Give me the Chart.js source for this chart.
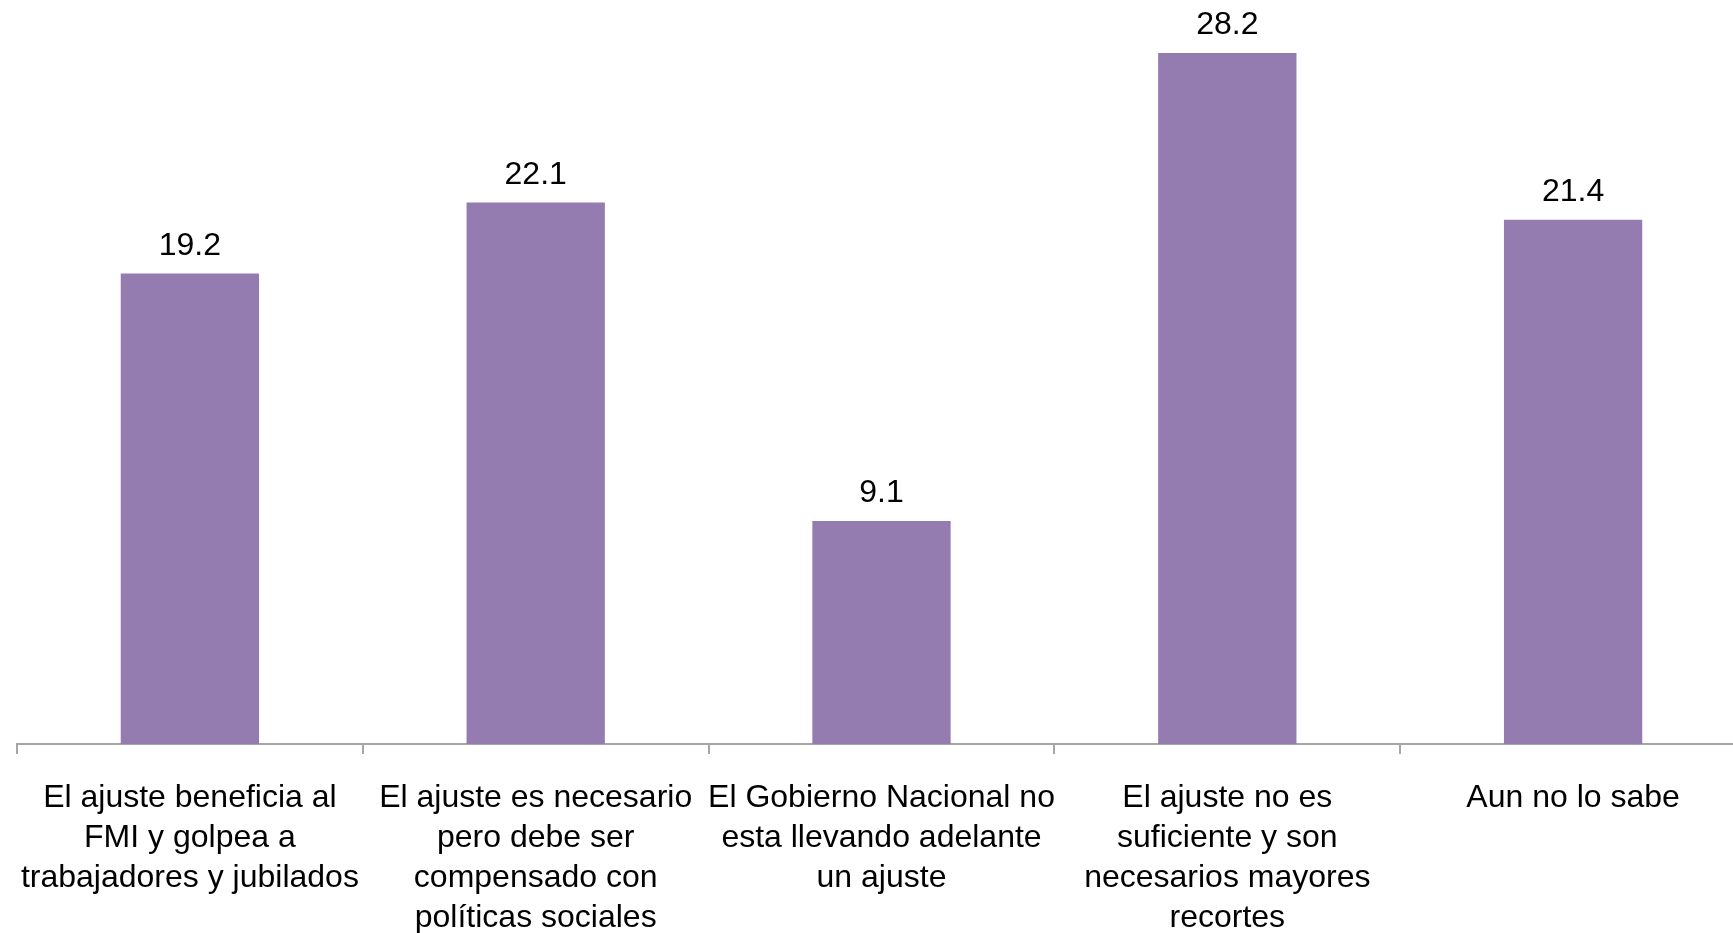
<!DOCTYPE html>
<html>
<head>
<meta charset="utf-8">
<script src="https://cdn.jsdelivr.net/npm/chart.js@4.4.1/dist/chart.umd.min.js"></script>
<style>
    html, body { margin: 0; padding: 0; background: #fff; overflow: hidden; }
    #wrap { width: 1746px; height: 933px; position: relative; }
</style>
</head>
<body>
<div id="wrap"><canvas id="ajusteChart"></canvas></div>
<script>
const categories = [
    ["El ajuste beneficia al", "FMI y golpea a", "trabajadores y jubilados"],
    ["El ajuste es necesario", "pero debe ser", "compensado con", "políticas sociales"],
    ["El Gobierno Nacional no", "esta llevando adelante", "un ajuste"],
    ["El ajuste no es", "suficiente y son", "necesarios mayores", "recortes"],
    ["Aun no lo sabe"]
];
const values = [19.2, 22.1, 9.1, 28.2, 21.4];

const font = '"Liberation Sans", Arial, Helvetica, sans-serif';
const axisGrey = '#a6a6a6';

// numbers over the bars
const valueLabels = {
    id: 'valueLabels',
    afterDatasetsDraw(chart) {
        const ctx = chart.ctx;
        const meta = chart.getDatasetMeta(0);
        ctx.save();
        ctx.font = '32px ' + font;
        ctx.fillStyle = '#000';
        ctx.textAlign = 'center';
        ctx.textBaseline = 'alphabetic';
        meta.data.forEach(function (bar, i) {
            ctx.fillText(values[i].toFixed(1), bar.x, bar.y - 19);
        });
        ctx.restore();
    }
};

new Chart(document.getElementById('ajusteChart'), {
    type: 'bar',
    data: {
        labels: categories,
        datasets: [{
            data: values,
            backgroundColor: '#947cb0',
            borderWidth: 0,
            barPercentage: 0.4,
            categoryPercentage: 1.0
        }]
    },
    options: {
        responsive: true,
        maintainAspectRatio: false,
        animation: false,
        layout: { padding: { left: 17, top: 9, right: 0, bottom: 0 } },
        plugins: {
            legend: { display: false },
            tooltip: { enabled: false }
        },
        scales: {
            x: {
                afterFit: function (axis) {
                    axis.height = 189;
                    // long labels should not push the plot area inwards
                    axis.paddingLeft = 0;
                    axis.paddingRight = 0;
                },
                grid: {
                    display: true,
                    drawOnChartArea: false,
                    color: axisGrey,
                    lineWidth: 2,
                    tickLength: 10,
                    offset: true
                },
                border: { display: true, color: axisGrey, width: 2 },
                ticks: {
                    autoSkip: false,
                    maxRotation: 0,
                    minRotation: 0,
                    padding: 24,
                    color: '#000',
                    font: { family: font, size: 32, lineHeight: 1.25 }
                }
            },
            y: {
                display: false,
                min: 0,
                max: 30
            }
        }
    },
    plugins: [valueLabels]
});
</script>
</body>
</html>
